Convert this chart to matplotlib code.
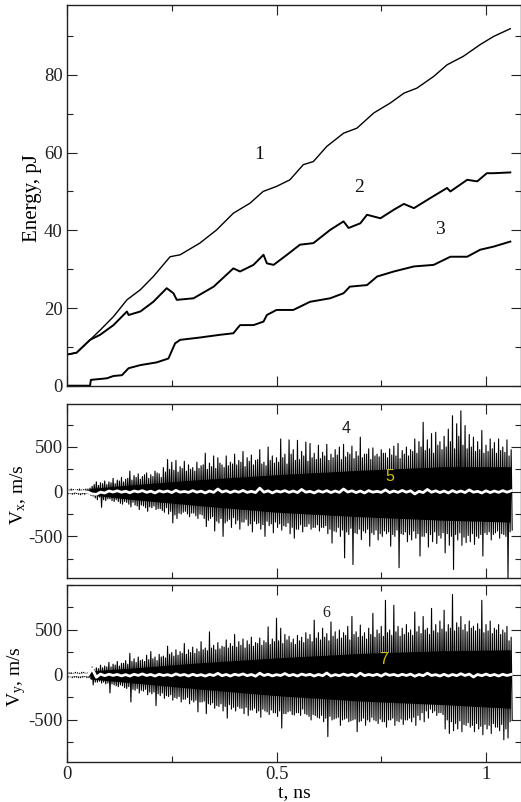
import numpy as np
import matplotlib
matplotlib.use("Agg")
import matplotlib.pyplot as plt
from matplotlib.ticker import MultipleLocator

plt.rcParams['font.family'] = ['Liberation Serif', 'DejaVu Serif']
plt.rcParams['mathtext.fontset'] = 'custom'
plt.rcParams['mathtext.rm'] = 'Liberation Serif'
plt.rcParams['mathtext.it'] = 'Liberation Serif:italic'
plt.rcParams['axes.unicode_minus'] = False

# ---------------- Energy curves (top panel) ----------------
t1 = [0.0, 0.023, 0.055, 0.079, 0.111, 0.143, 0.175, 0.206, 0.246, 0.27, 0.317, 0.357,
      0.397, 0.437, 0.468, 0.5, 0.532, 0.564, 0.588, 0.62, 0.66, 0.692, 0.732, 0.772,
      0.804, 0.835, 0.875, 0.907, 0.946, 0.986, 1.018, 1.058]
e1 = [8.0, 8.5, 11.8, 14.3, 17.8, 22.1, 24.7, 28.1, 33.2, 33.7, 36.7, 40.1,
      44.4, 47.0, 50.0, 51.3, 53.0, 56.9, 57.7, 61.6, 65.0, 66.3, 70.2, 72.8,
      75.3, 76.6, 79.6, 82.6, 84.8, 87.8, 89.9, 91.9]

t2 = [0.0, 0.023, 0.055, 0.079, 0.111, 0.143, 0.147, 0.175, 0.206, 0.238, 0.254, 0.262,
      0.302, 0.35, 0.397, 0.413, 0.445, 0.469, 0.477, 0.493, 0.525, 0.556, 0.588, 0.628,
      0.66, 0.672, 0.7, 0.716, 0.748, 0.78, 0.804, 0.828, 0.867, 0.907, 0.915, 0.955,
      0.979, 1.002, 1.018, 1.058]
e2 = [8.0, 8.5, 11.8, 13.1, 15.6, 19.1, 18.2, 19.1, 21.6, 25.1, 23.8, 22.1,
      22.5, 25.5, 30.2, 29.4, 31.1, 33.7, 31.5, 31.1, 33.7, 36.3, 36.7, 40.1,
      42.3, 40.6, 41.8, 44.0, 43.1, 45.3, 46.8, 45.7, 48.3, 50.9, 50.0, 53.0,
      52.6, 54.7, 54.7, 54.9]

t3 = [0.0, 0.055, 0.057, 0.095, 0.111, 0.131, 0.147, 0.175, 0.214, 0.242, 0.258, 0.27,
      0.317, 0.365, 0.397, 0.413, 0.445, 0.469, 0.477, 0.5, 0.54, 0.58, 0.628, 0.66,
      0.675, 0.716, 0.74, 0.78, 0.828, 0.875, 0.915, 0.955, 0.986, 1.018, 1.058]
e3 = [0.0, 0.0, 1.5, 1.9, 2.5, 2.7, 4.5, 5.3, 6.0, 7.0, 10.9, 11.8,
      12.4, 13.1, 13.5, 15.6, 15.6, 16.5, 18.2, 19.5, 19.5, 21.6, 22.5, 23.8,
      25.5, 25.9, 28.1, 29.4, 30.7, 31.1, 33.2, 33.2, 35.0, 35.8, 37.1]

# ---------------- Velocity signals ----------------
# set A sampled at 0.00, 0.01, ..., 1.06 ; set B sampled at 0.005, 0.015, ..., 1.055
t_a = np.round(np.arange(0.0, 1.065, 0.01), 3)
t_b = np.round(np.arange(0.005, 1.056, 0.01), 3)

vx_hi_a = [25, 30, 20, 30, 25, 30, 60, 110, 100, 120,
           110, 150, 130, 160, 140, 230, 180, 200, 170, 210,
           190, 230, 200, 270, 360, 330, 350, 280, 340, 300,
           270, 330, 290, 430, 320, 400, 380, 300, 400, 330,
           420, 350, 450, 380, 410, 350, 470, 330, 500, 400,
           380, 590, 420, 580, 470, 575, 450, 555, 540, 430,
           520, 440, 530, 420, 470, 500, 530, 440, 510, 450,
           610, 420, 480, 490, 420, 470, 430, 480, 510, 540,
           460, 500, 470, 590, 560, 777, 580, 650, 665, 560,
           620, 700, 850, 760, 905, 740, 640, 610, 560, 685,
           520, 590, 550, 590, 500, 580, 470]
vx_lo_a = [-25, -30, -20, -35, -30, -25, -50, -90, -175, -100,
           -80, -110, -110, -140, -120, -170, -150, -200, -160, -220,
           -180, -200, -190, -230, -250, -350, -300, -250, -220, -280,
           -240, -300, -260, -390, -300, -440, -350, -500, -330, -400,
           -360, -420, -340, -380, -450, -360, -420, -500, -380, -460,
           -400, -430, -390, -470, -520, -420, -450, -390, -420, -400,
           -440, -400, -470, -575, -450, -500, -740, -480, -815, -470,
           -535, -460, -610, -480, -540, -500, -470, -610, -500, -850,
           -480, -560, -540, -520, -720, -500, -620, -560, -580, -520,
           -685, -600, -870, -540, -600, -570, -560, -590, -520, -720,
           -480, -540, -460, -520, -480, -980, -430]
vx_hi_b = [20, 25, 25, 20, 30, 40, 80, 70, 90, 80,
           100, 90, 120, 110, 150, 130, 160, 140, 190, 150,
           170, 210, 160, 220, 250, 240, 220, 260, 230, 250,
           230, 260, 300, 250, 280, 260, 320, 270, 290, 310,
           300, 330, 280, 340, 300, 360, 310, 290, 350, 320,
           330, 380, 310, 420, 350, 360, 400, 340, 380, 360,
           370, 400, 350, 380, 410, 360, 390, 420, 370, 400,
           380, 420, 360, 400, 390, 430, 380, 410, 400, 370,
           420, 400, 450, 430, 500, 460, 480, 430, 520, 470,
           500, 560, 480, 620, 520, 480, 500, 450, 470, 430,
           450, 480, 430, 460, 440, 400]
vx_lo_b = [-20, -25, -30, -25, -20, -40, -70, -60, -90, -80,
           -100, -90, -130, -110, -140, -120, -160, -150, -180, -170,
           -160, -190, -210, -180, -220, -260, -240, -230, -250, -240,
           -270, -250, -300, -320, -280, -330, -300, -350, -310, -290,
           -320, -340, -310, -360, -330, -350, -370, -330, -360, -340,
           -360, -380, -350, -400, -420, -370, -390, -360, -400, -370,
           -400, -380, -420, -440, -400, -430, -450, -410, -460, -420,
           -440, -420, -460, -430, -470, -440, -450, -480, -430, -470,
           -450, -480, -440, -470, -500, -460, -480, -450, -490, -460,
           -470, -500, -480, -460, -510, -490, -470, -500, -480, -460,
           -450, -480, -440, -470, -500, -450]
vx_white = [3, -3, 5, -4, 2, -5, -25, -30, -5, -15,
            8, -4, 10, -6, 5, -12, 8, -3, 12, -8,
            6, -14, 10, -4, 8, -10, 15, -6, 3, -8,
            12, -6, 6, -14, 8, -8, 30, -4, 10, -10,
            8, -6, 14, -8, 4, -10, 40, -6, 10, -14,
            8, -4, 12, -8, 8, -10, 25, -6, 4, -14,
            10, -6, 12, -10, 8, -8, 30, -4, 10, -10,
            8, -14, 12, -6, 4, -8, 20, -10, 8, -8,
            14, -6, 10, -25, 4, -10, 25, -6, 10, -10,
            8, -14, 12, -8, 8, -10, 20, -6, 4, -14,
            10, -10, 8, -8, 12, -6, 10]

vy_hi_a = [30, 25, 30, 20, 30, 25, 90, 80, 110, 100,
           140, 120, 150, 130, 160, 240, 180, 200, 170, 220,
           260, 200, 230, 210, 320, 250, 280, 260, 350, 280,
           310, 290, 370, 300, 480, 330, 360, 320, 390, 350,
           450, 370, 400, 380, 420, 360, 410, 380, 535, 400,
           630, 520, 450, 430, 400, 440, 420, 470, 450, 610,
           470, 520, 460, 590, 480, 500, 470, 540, 650, 480,
           555, 470, 520, 685, 500, 540, 830, 500, 775, 540,
           520, 560, 500, 700, 540, 650, 520, 740, 560, 600,
           720, 560, 895, 580, 650, 560, 600, 540, 570, 830,
           560, 600, 520, 560, 500, 540, 420]
vy_lo_a = [-25, -30, -25, -30, -20, -30, -110, -80, -90, -100,
           -200, -110, -130, -120, -150, -300, -170, -200, -180, -220,
           -210, -340, -230, -260, -240, -280, -260, -300, -270, -320,
           -300, -410, -300, -430, -330, -370, -350, -400, -480, -380,
           -400, -370, -430, -450, -390, -420, -470, -400, -440, -420,
           -460, -590, -430, -400, -445, -420, -380, -440, -500, -450,
           -480, -520, -685, -500, -480, -560, -490, -520, -500, -630,
           -510, -560, -520, -500, -540, -520, -580, -500, -560, -520,
           -550, -500, -520, -560, -500, -520, -480, -420, -450, -420,
           -600, -650, -620, -600, -630, -560, -580, -630, -600, -665,
           -600, -650, -580, -620, -720, -700, -500]
vy_hi_b = [25, 20, 25, 30, 20, 40, 60, 70, 80, 90,
           90, 110, 100, 130, 120, 150, 140, 160, 150, 170,
           180, 160, 200, 190, 230, 210, 220, 240, 230, 250,
           240, 260, 280, 270, 300, 280, 290, 310, 300, 320,
           310, 330, 300, 340, 320, 350, 330, 360, 340, 370,
           380, 350, 390, 360, 340, 380, 360, 400, 370, 410,
           390, 420, 380, 430, 400, 410, 440, 390, 450, 420,
           430, 400, 450, 420, 460, 430, 470, 440, 480, 430,
           450, 470, 440, 480, 460, 500, 450, 490, 470, 510,
           480, 520, 490, 530, 500, 480, 520, 490, 510, 470,
           490, 460, 500, 450, 470, 380]
vy_lo_b = [-20, -25, -30, -25, -30, -40, -80, -70, -80, -90,
           -100, -120, -110, -140, -130, -160, -150, -170, -160, -190,
           -190, -210, -200, -230, -220, -250, -240, -270, -250, -280,
           -280, -300, -290, -320, -310, -340, -320, -350, -330, -360,
           -350, -370, -360, -390, -370, -400, -380, -410, -390, -420,
           -400, -430, -410, -440, -420, -450, -430, -460, -440, -470,
           -450, -480, -460, -490, -470, -500, -480, -510, -490, -520,
           -480, -500, -470, -510, -490, -520, -500, -480, -510, -490,
           -500, -480, -470, -450, -420, -400, -380, -400, -420, -440,
           -500, -520, -540, -510, -550, -530, -560, -540, -570, -550,
           -560, -540, -580, -550, -600, -520]
vy_white = [3, -4, 4, -3, 5, -2, 70, -25, 10, -8,
            8, -5, 6, -10, 4, -12, 8, -5, 12, -6,
            6, -12, 8, -6, 4, -10, 12, -5, 6, -12,
            8, -8, 4, -12, 6, -6, 18, -8, 6, -12,
            8, -4, 12, -8, 6, -14, 20, -6, 8, -10,
            4, -6, 16, -8, 6, -12, 10, -4, 8, -12,
            6, -8, 22, -12, 4, -8, 10, -6, 8, -14,
            20, -8, 6, -6, 8, -12, 14, -4, 6, -10,
            8, -6, 10, -14, 6, -8, 20, -6, 4, -12,
            8, -12, 6, -8, 14, -6, 10, -22, 6, -8,
            10, -8, 6, -12, 8, -6, 6]

# dense core envelopes
core_t = [0.055, 0.15, 0.3, 0.5, 0.7, 0.9, 1.058]
vx_core_hi = [35, 75, 130, 190, 240, 280, 280]
vx_core_lo = [-35, -85, -150, -230, -280, -320, -340]
vy_core_hi = [45, 75, 130, 190, 240, 270, 280]
vy_core_lo = [-45, -85, -150, -230, -290, -330, -370]

labels_top = [("1", 0.458, 59.5), ("2", 0.698, 50.9), ("3", 0.889, 40.1)]

# ---------------- figure ----------------
fig = plt.figure(figsize=(5.21, 8.02), dpi=100)
W, H = 521.0, 802.0
left = 67 / W
width = 454 / W
ax1 = fig.add_axes([left, (H - 385.7) / H, width, 380.7 / H])
ax2 = fig.add_axes([left, (H - 578.3) / H, width, 174.3 / H])
ax3 = fig.add_axes([left, (H - 762) / H, width, 177 / H])

XMAX = 1.0835
TICK_FS = 13.5


def style(ax, ymaj, ymin):
    ax.set_xlim(0, XMAX)
    ax.xaxis.set_major_locator(MultipleLocator(0.5))
    ax.xaxis.set_minor_locator(MultipleLocator(0.25))
    ax.yaxis.set_major_locator(MultipleLocator(ymaj))
    ax.yaxis.set_minor_locator(MultipleLocator(ymin))
    ax.tick_params(which='both', direction='in', top=True, right=True,
                   labelsize=TICK_FS, width=0.8, colors='#222222', pad=3)
    ax.tick_params(which='major', length=7)
    ax.tick_params(which='minor', length=4)
    for sp in ax.spines.values():
        sp.set_linewidth(1.0)
        sp.set_color('#222222')


# top panel
style(ax1, 20, 10)
ax1.set_ylim(0, 98)
ax1.plot(t1, e1, color='black', lw=1.0)
ax1.plot(t2, e2, color='black', lw=1.4)
ax1.plot(t3, e3, color='black', lw=1.4)
for s, x, y in labels_top:
    ax1.text(x, y, s, fontsize=14, ha='center', va='center', color='#111111')
ax1.set_yticks([0, 20, 40, 60, 80])
ax1.tick_params(labelbottom=False)
ax1.set_ylabel("Energy, pJ", fontsize=15)
ax1.yaxis.set_label_coords(-0.056, 0.494)


def noise_panel(ax, hi_a, lo_a, hi_b, lo_b, white, chi, clo, ylim):
    ta = np.asarray(t_a)
    tb = np.asarray(t_b)
    # each sample time carries a high and a low excursion
    ts = np.concatenate([ta, ta + 0.0025, tb, tb + 0.0025])
    vs = np.concatenate([hi_a, lo_a, hi_b, lo_b]).astype(float)
    order = np.argsort(ts, kind='stable')
    ax.fill_between(core_t, clo, chi, color='black', lw=0)
    ax.plot(ts[order], vs[order], color='black', lw=0.8)
    ax.plot(ta, white, color='white', lw=2.0, solid_joinstyle='round')
    ax.set_ylim(*ylim)


style(ax2, 500, 250)
noise_panel(ax2, vx_hi_a, vx_lo_a, vx_hi_b, vx_lo_b, vx_white,
            vx_core_hi, vx_core_lo, (-969, 981))
ax2.set_yticks([-500, 0, 500])
ax2.tick_params(labelbottom=False)
ax2.set_ylabel(r"V$_\mathrm{x}$, m/s", fontsize=14)
ax2.yaxis.set_label_coords(-0.086, 0.48)
ax2.text(0.667, 704, "4", fontsize=11.5, ha='center', va='center',
         family=['Liberation Sans', 'DejaVu Sans'], color='#222222')
ax2.text(0.771, 167, "5", fontsize=11.5, ha='center', va='center',
         family=['Liberation Sans', 'DejaVu Sans'], color='#d2c200')

style(ax3, 500, 250)
noise_panel(ax3, vy_hi_a, vy_lo_a, vy_hi_b, vy_lo_b, vy_white,
            vy_core_hi, vy_core_lo, (-967, 1000))
ax3.set_yticks([-500, 0, 500])
ax3.set_xticks([0, 0.5, 1])
ax3.set_xticklabels(["0", "0.5", "1"])
ax3.set_ylabel(r"V$_\mathrm{y}$, m/s", fontsize=14)
ax3.yaxis.set_label_coords(-0.086, 0.48)
ax3.set_xlabel("t, ns", fontsize=14, labelpad=1)
ax3.text(0.618, 685, "6", fontsize=11.5, ha='center', va='center', color='#222222')
ax3.text(0.755, 167, "7", fontsize=11.5, ha='center', va='center',
         family=['Liberation Sans', 'DejaVu Sans'], color='#d2c200')

fig.savefig("out.png", dpi=100)
